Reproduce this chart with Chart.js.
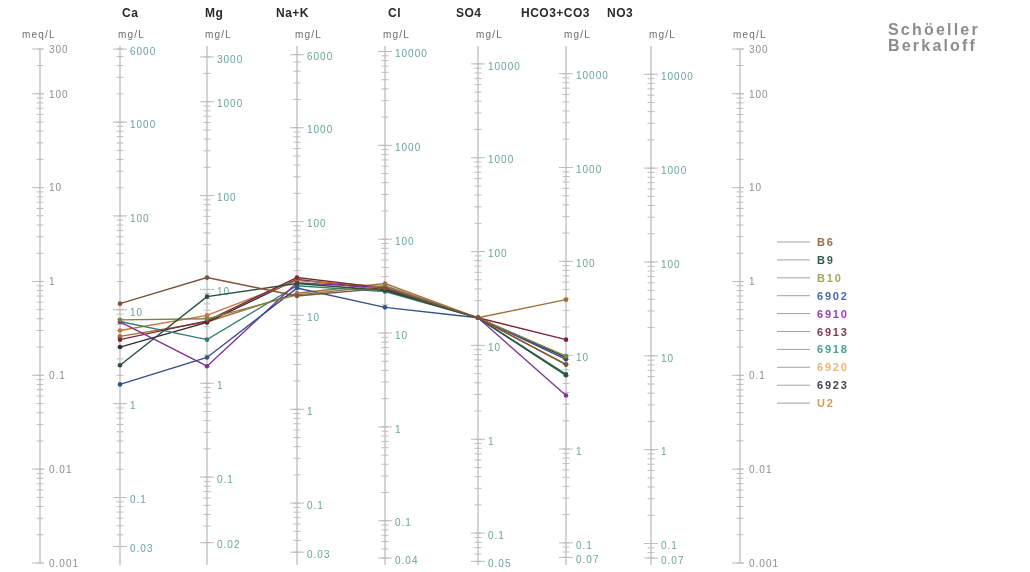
<!DOCTYPE html>
<html>
<head>
<meta charset="utf-8">
<script src="https://cdn.jsdelivr.net/npm/chart.js@4.4.0/dist/chart.umd.min.js"></script>
<style>
  body { margin: 0; background: #fff; }
  #wrap { width: 1030px; height: 572px; position: relative; }
</style>
</head>
<body>
<div id="wrap"><canvas id="chart"></canvas></div>
<script>
// ions along the diagram and their equivalent weights (mg per meq)
const ions = ['Ca', 'Mg', 'Na+K', 'Cl', 'SO4', 'HCO3+CO3', 'NO3'];
const eqWeights = [20.04, 12.15, 23.0, 35.45, 48.03, 61.02, 62.0];

// tick labels
const meqTicks = [300, 100, 10, 1, 0.1, 0.01, 0.001];
const mgTicks = [
  [6000, 1000, 100, 10, 1, 0.1, 0.03],
  [3000, 1000, 100, 10, 1, 0.1, 0.02],
  [6000, 1000, 100, 10, 1, 0.1, 0.03],
  [10000, 1000, 100, 10, 1, 0.1, 0.04],
  [10000, 1000, 100, 10, 1, 0.1, 0.05],
  [10000, 1000, 100, 10, 1, 0.1, 0.07],
  [10000, 1000, 100, 10, 1, 0.1, 0.07]
];

// samples, meq/L per ion (no NO3 data)
const samples = ['B6', 'B9', 'B10', '6902', '6910', '6913', '6918', '6920', '6923', 'U2'];
const B6   = [0.58, 1.10, 0.70, 0.85, 0.41, 0.13, null];
const B9   = [0.128, 0.69, 0.95, 0.80, 0.41, 0.10, null];
const B10  = [0.39, 0.40, 0.72, 0.90, 0.41, 0.16, null];
const s6902 = [0.08, 0.155, 0.85, 0.53, 0.41, 0.148, null];
const s6910 = [0.37, 0.125, 0.97, 0.86, 0.41, 0.061, null];
const s6913 = [0.24, 0.38, 1.10, 0.85, 0.41, 0.24, null];
const s6918 = [0.375, 0.24, 0.90, 0.78, 0.41, 0.103, null];
const s6920 = [0.30, 0.435, 1.02, 0.88, 0.41, 0.131, null];
const s6923 = [0.20, 0.366, 1.05, 0.82, 0.41, 0.155, null];
const U2   = [0.26, 0.37, 0.75, 0.95, 0.41, 0.64, null];
const seriesValues = [B6, B9, B10, s6902, s6910, s6913, s6918, s6920, s6923, U2];

// layout / style
const labelColors = ['#9a6a48', '#2f5f48', '#a5a45e', '#4b68a8', '#9a40b0', '#7a3a52', '#4aa394', '#eeb27a', '#444444', '#d49a5a'];
const lineColors  = ['#7e5236', '#2a5038', '#7e8048', '#34508a', '#7e3494', '#7e2638', '#357e6e', '#c8743a', '#2e2e2e', '#a86e3a'];
const ionX = [120, 207, 297, 385, 478, 566, 651]; // axis positions (same units as x scale)
const meqLeftX = 40, meqRightX = 740;
const headerX = [122, 205, 276, 388, 456, 521, 607];
const FONT = '"Liberation Sans", Arial, sans-serif';

const axesPlugin = {
  id: 'schoellerAxes',
  beforeDatasetsDraw(chart) {
    const ctx = chart.ctx;
    const y = chart.scales.y;
    const x = chart.scales.x;
    const top = y.getPixelForValue(300), bottom = y.getPixelForValue(0.001);
    ctx.save();

    function minorTicks(px, lo, hi, toPix) {
      const d = Math.pow(10, Math.floor(Math.log10(lo)) - 1);
      for (let dec = d; dec <= hi * 10; dec *= 10) {
        for (let k = 1; k < 10; k++) {
          const v = k * dec;
          if (v < lo * 0.999 || v > hi * 1.001) continue;
          const py = toPix(v);
          ctx.beginPath();
          ctx.moveTo(px - 3.5, py); ctx.lineTo(px + 3.5, py);
          ctx.stroke();
        }
      }
    }

    ctx.textBaseline = 'middle';
    ctx.textAlign = 'left';

    // meq axes
    [meqLeftX, meqRightX].forEach(mx => {
      const px = x.getPixelForValue(mx);
      ctx.strokeStyle = '#bdbdbd';
      ctx.lineWidth = 1.3;
      ctx.beginPath(); ctx.moveTo(px, top); ctx.lineTo(px, bottom); ctx.stroke();
      ctx.lineWidth = 1;
      minorTicks(px, 0.001, 300, v => y.getPixelForValue(v));
      ctx.fillStyle = '#8e8e8e';
      ctx.font = '10px ' + FONT;
      ctx.letterSpacing = '1px';
      meqTicks.forEach(t => {
        const py = y.getPixelForValue(t);
        ctx.beginPath(); ctx.moveTo(px - 8, py); ctx.lineTo(px + 4, py); ctx.stroke();
        ctx.fillText(String(t), px + 9, py + 1);
      });
    });

    // mg/L axes
    ionX.forEach((ix, i) => {
      const px = x.getPixelForValue(ix);
      const w = eqWeights[i];
      const ticks = mgTicks[i];
      const hi = ticks[0], lo = ticks[ticks.length - 1];
      const toPix = v => y.getPixelForValue(v / w);
      ctx.strokeStyle = '#bdbdbd';
      ctx.lineWidth = 1.3;
      ctx.beginPath(); ctx.moveTo(px, top - 3); ctx.lineTo(px, bottom + 2); ctx.stroke();
      ctx.lineWidth = 1;
      minorTicks(px, lo, hi, toPix);
      ctx.fillStyle = '#6aa59b';
      ctx.font = '10px ' + FONT;
      ctx.letterSpacing = '1px';
      ticks.forEach(t => {
        const py = toPix(t);
        ctx.beginPath(); ctx.moveTo(px - 7, py); ctx.lineTo(px + 7, py); ctx.stroke();
        ctx.fillText(String(t), px + 10, py + 3);
      });
    });

    // headers and units
    ctx.fillStyle = '#2a2a2a';
    ctx.font = 'bold 12px ' + FONT;
    ctx.letterSpacing = '0.5px';
    ions.forEach((n, i) => ctx.fillText(n, headerX[i], 14));
    ctx.fillStyle = '#6e6e6e';
    ctx.font = '10px ' + FONT;
    ctx.letterSpacing = '1.2px';
    ctx.fillText('meq/L', 22, 35);
    ctx.fillText('meq/L', 733, 35);
    ionX.forEach(ix => ctx.fillText('mg/L', x.getPixelForValue(ix) - 2, 35));

    // title
    ctx.fillStyle = '#8c8c8c';
    ctx.font = 'bold 16px ' + FONT;
    ctx.letterSpacing = '2.2px';
    ctx.fillText('Schöeller', 888, 31);
    ctx.fillText('Berkaloff', 888, 47);

    // legend
    ctx.font = 'bold 11px ' + FONT;
    ctx.letterSpacing = '1.8px';
    samples.forEach((s, i) => {
      const ly = 242 + i * 17.9;
      ctx.strokeStyle = '#a0a0a0';
      ctx.lineWidth = 1;
      ctx.beginPath(); ctx.moveTo(777, ly); ctx.lineTo(810, ly); ctx.stroke();
      ctx.fillStyle = labelColors[i];
      ctx.fillText(s, 817, ly + 1);
    });
    ctx.letterSpacing = '0px';
    ctx.restore();
  }
};

const datasets = samples.map((s, i) => ({
  label: s,
  data: seriesValues[i].map((v, j) => v == null ? null : { x: ionX[j], y: v }).filter(p => p),
  borderColor: lineColors[i],
  backgroundColor: lineColors[i],
  borderWidth: 1.4,
  pointRadius: 2.3,
  pointBorderWidth: 0,
  tension: 0
}));

new Chart(document.getElementById('chart').getContext('2d'), {
  type: 'line',
  data: { datasets },
  options: {
    responsive: true,
    maintainAspectRatio: false,
    animation: false,
    layout: { padding: { left: 40, right: 290, top: 49, bottom: 9 } },
    plugins: { legend: { display: false }, tooltip: { enabled: false } },
    scales: {
      x: { type: 'linear', min: 40, max: 740, display: false },
      y: { type: 'logarithmic', min: 0.001, max: 300, display: false }
    }
  },
  plugins: [axesPlugin]
});
</script>
</body>
</html>
